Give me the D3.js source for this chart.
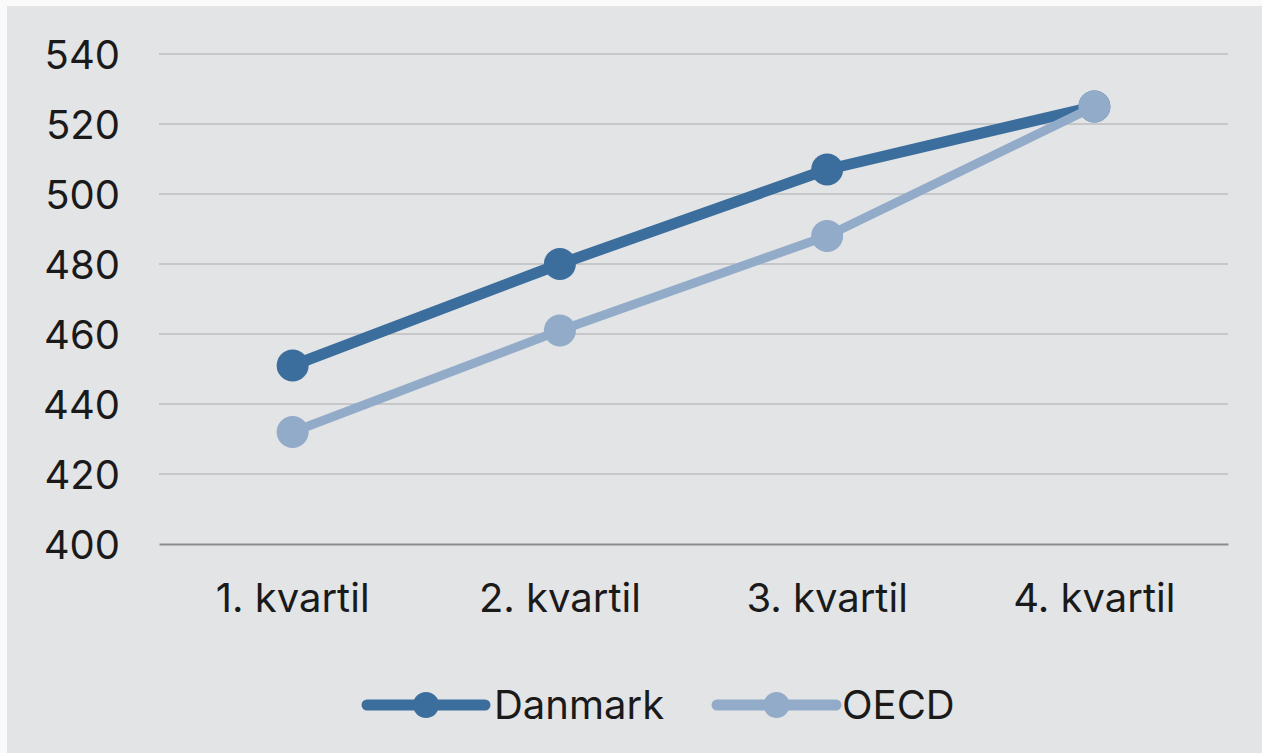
<!DOCTYPE html>
<html><head><meta charset="utf-8">
<script src="https://cdn.jsdelivr.net/npm/d3@7"></script>
<style>
html,body{margin:0;padding:0;background:#fafafa;}
svg{display:block;}
text{font-family:Inter,"Noto Sans",sans-serif;fill:#1a1a1a;}
</style></head><body>
<svg id="c" width="1262" height="753"></svg>
<script>
const categories = ["1. kvartil","2. kvartil","3. kvartil","4. kvartil"];
const danmark = [451, 480, 507, 525];
const oecd = [432, 461, 488, 525];
const yTicks = [400,420,440,460,480,500,520,540];
const seriesNames = ["Danmark","OECD"];
const colors = ["#3c6e9d","#91abc9"];

const svg = d3.select("#c");
svg.append("rect").attr("x",7).attr("y",6).attr("width",1255).attr("height",747).attr("fill","#e3e4e6");

const x = d3.scaleBand().domain(categories).range([159,1228]);
const y = d3.scaleLinear().domain([400,540]).range([544,54]);

// gridlines
svg.append("g").selectAll("line").data(yTicks.filter(t=>t>400)).join("line")
  .attr("x1",159).attr("x2",1228).attr("y1",d=>y(d)).attr("y2",d=>y(d))
  .attr("stroke","#c6c7c9").attr("stroke-width",2);

// y axis
const ya = svg.append("g").attr("transform","translate(159,0)")
  .call(d3.axisLeft(y).tickValues(yTicks).tickSize(0).tickPadding(39));
ya.select(".domain").remove();
ya.selectAll("text").attr("font-size",40).attr("font-family","Inter,sans-serif").attr("fill","#1a1a1a").attr("dy","0.35em");

// x axis
const xa = svg.append("g").attr("transform","translate(0,544)")
  .call(d3.axisBottom(x).tickSize(0).tickPadding(40));
xa.select(".domain").attr("stroke","#8a8b8d").attr("stroke-width",2);
xa.selectAll("text").attr("font-size",40).attr("font-family","Inter,sans-serif").attr("fill","#1a1a1a").attr("dy","0.71em");

const cx = d => x(d)+x.bandwidth()/2;
const line = d3.line().x((d,i)=>cx(categories[i])).y(d=>y(d));

[danmark, oecd].forEach((s,k)=>{
  const g = svg.append("g");
  g.append("path").datum(s).attr("d",line).attr("fill","none")
    .attr("stroke",colors[k]).attr("stroke-width",k===0?11:9).attr("stroke-linejoin","round");
  g.selectAll("circle").data(s).join("circle")
    .attr("cx",(d,i)=>cx(categories[i])).attr("cy",d=>y(d)).attr("r",16).attr("fill",colors[k]);
});

// legend
const leg = [{x0:367,x1:485,t:494},{x0:717,x1:836,t:842}];
leg.forEach((l,k)=>{
  const g = svg.append("g");
  g.append("line").attr("x1",l.x0).attr("x2",l.x1).attr("y1",705).attr("y2",705)
    .attr("stroke",colors[k]).attr("stroke-width",11).attr("stroke-linecap","round");
  g.append("circle").attr("cx",(l.x0+l.x1)/2).attr("cy",705).attr("r",13).attr("fill",colors[k]);
  g.append("text").attr("x",l.t).attr("y",705).attr("dy","0.35em").attr("font-size",40).text(seriesNames[k]);
});
</script></body></html>
